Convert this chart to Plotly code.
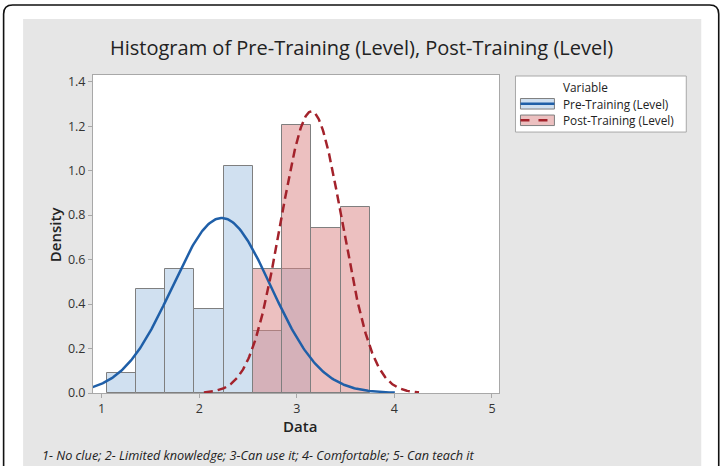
import numpy as np
import plotly.graph_objects as go

# ---------------- data ----------------
BIN_WIDTH = 0.3
pre_bins = [1.2, 1.5, 1.8, 2.1, 2.4, 2.7, 3.0]
pre_density = [0.092, 0.466, 0.556, 0.376, 1.023, 0.279, 0.556]
post_bins = [2.7, 3.0, 3.3, 3.6]
post_density = [0.556, 1.206, 0.741, 0.838]
pre_mean, pre_sd = 2.23, 0.507
post_mean, post_sd = 3.15, 0.315
series_names = ["Pre-Training (Level)", "Post-Training (Level)"]
x_ticks = [1, 2, 3, 4, 5]
y_ticks = [0.0, 0.2, 0.4, 0.6, 0.8, 1.0, 1.2, 1.4]
title_text = "Histogram of Pre-Training (Level), Post-Training (Level)"
caption_text = "1- No clue; 2- Limited knowledge; 3-Can use it; 4- Comfortable; 5- Can teach it"

# ---------------- styles ----------------
W, H = 723, 466
L, R, T, B = 93, 499.5, 75, 392.7
FONT = "Open Sans"
PRE_FILL = "#d0e0f0"
POST_FILL = "rgba(217,129,129,0.5)"
EDGE = "#7f7f7f"
BLUE = "#1f5fa8"
RED = "#a3222b"


def xp(px):
    return (px - L) / (R - L)


def yp(py):
    return (B - py) / (B - T)


def normal_pdf(x, m, s):
    return np.exp(-0.5 * ((x - m) / s) ** 2) / (s * np.sqrt(2 * np.pi))


pre_x = np.linspace(pre_mean - 3.5 * pre_sd, pre_mean + 3.5 * pre_sd, 300)
post_x = np.linspace(post_mean - 3.5 * post_sd, post_mean + 3.5 * post_sd, 300)

fig = go.Figure()
fig.add_trace(go.Bar(x=pre_bins, y=pre_density, width=BIN_WIDTH,
                     marker=dict(color=PRE_FILL, line=dict(color=EDGE, width=1)),
                     name=series_names[0], showlegend=False))
fig.add_trace(go.Bar(x=post_bins, y=post_density, width=BIN_WIDTH,
                     marker=dict(color=POST_FILL, line=dict(color=EDGE, width=1)),
                     name=series_names[1], showlegend=False))
fig.add_trace(go.Scatter(x=pre_x, y=normal_pdf(pre_x, pre_mean, pre_sd), mode="lines",
                         line=dict(color=BLUE, width=2.5), showlegend=False))
fig.add_trace(go.Scatter(x=post_x, y=normal_pdf(post_x, post_mean, post_sd), mode="lines",
                         line=dict(color=RED, width=2.5, dash="9px,5px"), showlegend=False))

shapes = []
# gray panel
shapes.append(dict(type="rect", xref="paper", yref="paper", layer="below",
                   x0=xp(23), x1=xp(702), y0=yp(480), y1=yp(19),
                   fillcolor="#e6e6e6", line=dict(width=0)))
# white plot area
shapes.append(dict(type="rect", xref="paper", yref="paper", layer="below",
                   x0=0, x1=1, y0=0, y1=1, fillcolor="white", line=dict(width=0)))
# outer rounded border
r = 9
path = (f"M {xp(3.5)},{yp(480)} L {xp(3.5)},{yp(5 + r)} "
        f"Q {xp(3.5)},{yp(5)} {xp(3.5 + r)},{yp(5)} "
        f"L {xp(719.5 - r)},{yp(5)} Q {xp(719.5)},{yp(5)} {xp(719.5)},{yp(5 + r)} "
        f"L {xp(719.5)},{yp(480)}")
shapes.append(dict(type="path", xref="paper", yref="paper", path=path,
                   line=dict(color="#111111", width=1.6), layer="above"))
# legend box
shapes.append(dict(type="rect", xref="paper", yref="paper",
                   x0=xp(516), x1=xp(687), y0=yp(132), y1=yp(76),
                   fillcolor="white", line=dict(color="#a8a8a8", width=1)))
# legend symbols
for (y0, y1), fill, col, dash in [((98.5, 109), PRE_FILL, BLUE, "solid"),
                                  ((115, 125.5), "#ecc0c0", RED, "dash")]:
    shapes.append(dict(type="rect", xref="paper", yref="paper",
                       x0=xp(521), x1=xp(555), y0=yp(y1), y1=yp(y0),
                       fillcolor=fill, line=dict(color=EDGE, width=1)))
    ym = (y0 + y1) / 2
    shapes.append(dict(type="line", xref="paper", yref="paper",
                       x0=xp(521), x1=xp(555), y0=yp(ym), y1=yp(ym),
                       line=dict(color=col, width=2.5, dash=dash)))


def ann(text, x, y, size, xanchor="center", weight=400, angle=0):
    return dict(text=text, x=xp(x), y=yp(y), xref="paper", yref="paper",
                xanchor=xanchor, yanchor="middle", showarrow=False, textangle=angle,
                font=dict(family=FONT, size=size, color="#222", weight=weight))


annotations = [
    ann(title_text, 362, 48, 20, weight=500),
    ann("Density", 55, 234, 15, weight=600, angle=-90),
    ann("Data", 300, 426, 15, weight=600),
    ann("<i>" + caption_text + "</i>", 40, 455, 12.7, xanchor="left"),
    ann("Variable", 562, 87, 11.8, xanchor="left"),
    ann(series_names[0], 562, 103.5, 11.8, xanchor="left"),
    ann(series_names[1], 562, 120, 11.8, xanchor="left"),
]

axis_common = dict(showline=True, mirror=True, linecolor="#a8a8a8", linewidth=1,
                   showgrid=False, zeroline=False, ticks="outside", ticklen=4,
                   tickcolor="#a8a8a8", tickfont=dict(family=FONT, size=12.5, color="#333"))

fig.update_layout(
    width=W, height=H, autosize=False,
    margin=dict(l=L, r=W - R, t=T, b=H - B, pad=0),
    paper_bgcolor="white", plot_bgcolor="white",
    barmode="overlay", bargap=0, showlegend=False,
    xaxis=dict(range=[0.911, 5.072], tickvals=x_ticks, **axis_common),
    yaxis=dict(range=[0, 1.43], tickvals=y_ticks, tickformat=".1f", **axis_common),
    shapes=shapes, annotations=annotations,
)

fig.write_html("out.html")
